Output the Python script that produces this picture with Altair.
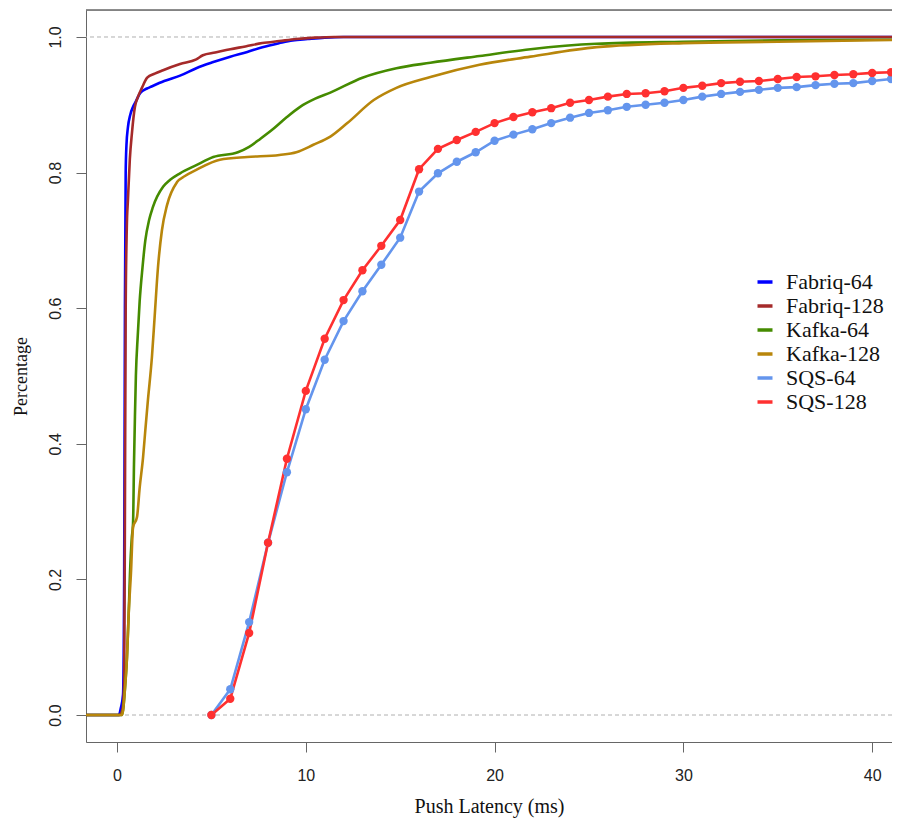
import altair as alt
import pandas as pd

series_names = ["Fabriq-64", "Fabriq-128", "Kafka-64", "Kafka-128", "SQS-64", "SQS-128"]
series_colors = ["#0000FF", "#A52A2A", "#458B00", "#B8860B", "#6495ED", "#FF3030"]

fabriq64_x = [-2, 0.1, 0.2, 0.32, 0.38, 0.42, 0.46, 0.5, 0.58, 0.7, 0.85, 1.0, 1.22, 1.59, 1.75, 2.5,
              3.34, 4.2, 5.1, 6.0, 6.9, 7.7, 8.6, 9.3, 10.1, 11, 12, 42]
fabriq64_y = [0, 0, 0.01, 0.03, 0.2, 0.6, 0.8, 0.84, 0.867, 0.885, 0.897, 0.905, 0.917, 0.924, 0.926, 0.935,
              0.943, 0.954, 0.963, 0.971, 0.978, 0.985, 0.991, 0.995, 0.997, 0.999, 1.0, 1.0]

fabriq128_x = [-2, 0.15, 0.3, 0.38, 0.42, 0.46, 0.52, 0.58, 0.68, 0.79, 0.95, 1.1, 1.32, 1.6, 2.0, 2.44,
               3.34, 4.2, 4.55, 5.2, 6.0, 6.8, 7.7, 8.6, 9.5, 10.5, 11.5, 42]
fabriq128_y = [0, 0, 0.01, 0.05, 0.3, 0.6, 0.72, 0.76, 0.82, 0.858, 0.897, 0.911, 0.925, 0.94, 0.946, 0.951,
               0.96, 0.967, 0.973, 0.977, 0.982, 0.986, 0.991, 0.994, 0.997, 0.999, 1.0, 1.0]

kafka64_x = [-2, 0.25, 0.32, 0.45, 0.53, 0.62, 0.69, 0.78, 0.85, 0.9, 0.95, 1.0, 1.1, 1.2, 1.35, 1.5, 1.7,
             1.9, 2.44, 2.8, 3.34, 4.2, 5.1, 6.4, 7.0, 7.6, 8.3, 9.0, 9.7, 10.5, 11.3, 13.0, 14.8, 16.6,
             19.2, 21.9, 25.4, 30, 35, 42]
kafka64_y = [0, 0, 0.007, 0.05, 0.086, 0.15, 0.21, 0.26, 0.283, 0.37, 0.44, 0.50, 0.56, 0.61, 0.66, 0.70,
             0.73, 0.749, 0.779, 0.789, 0.799, 0.811, 0.823, 0.83, 0.838, 0.85, 0.865, 0.882, 0.897, 0.909,
             0.918, 0.94, 0.954, 0.962, 0.972, 0.982, 0.99, 0.993, 0.995, 0.996]

kafka128_x = [-2, 0.25, 0.32, 0.45, 0.53, 0.62, 0.74, 0.85, 1.06, 1.2, 1.38, 1.5, 1.64, 1.85, 2.0, 2.17,
              2.38, 2.65, 3.18, 3.6, 4.2, 5.45, 6.9, 8.6, 9.5, 10.4, 11.3, 12.2, 13.6, 14.8, 16.6,
              19.2, 21.9, 25.4, 30, 35, 42]
kafka128_y = [0, 0, 0.007, 0.05, 0.086, 0.15, 0.21, 0.277, 0.292, 0.335, 0.38, 0.42, 0.465, 0.528, 0.59,
              0.66, 0.715, 0.752, 0.786, 0.795, 0.804, 0.819, 0.823, 0.826, 0.83, 0.841, 0.853, 0.873,
              0.907, 0.925, 0.941, 0.959, 0.971, 0.985, 0.991, 0.993, 0.996]

sqs_x = list(range(5, 42))
sqs64_y = [0, 0.038, 0.137, 0.254, 0.358, 0.451, 0.524, 0.581, 0.625, 0.664, 0.704, 0.772, 0.799, 0.816,
           0.830, 0.847, 0.856, 0.864, 0.873, 0.881, 0.888, 0.892, 0.897, 0.900, 0.903, 0.907, 0.912, 0.916,
           0.919, 0.922, 0.925, 0.926, 0.929, 0.931, 0.932, 0.935, 0.938]
sqs128_y = [0, 0.024, 0.121, 0.254, 0.378, 0.478, 0.555, 0.612, 0.656, 0.692, 0.730, 0.805, 0.835, 0.848,
            0.860, 0.873, 0.882, 0.889, 0.895, 0.903, 0.907, 0.912, 0.916, 0.917, 0.920, 0.925, 0.928, 0.932,
            0.934, 0.935, 0.938, 0.941, 0.942, 0.944, 0.945, 0.947, 0.948]

ref_lines = [0.0, 1.0]
x_ticks = [0, 10, 20, 30, 40]
y_ticks = [0.0, 0.2, 0.4, 0.6, 0.8, 1.0]


def frame(name, xs, ys):
    return pd.DataFrame({"x": xs, "y": ys, "series": name})


smooth_df = pd.concat([
    frame("Fabriq-64", fabriq64_x, fabriq64_y),
    frame("Fabriq-128", fabriq128_x, fabriq128_y),
    frame("Kafka-64", kafka64_x, kafka64_y),
    frame("Kafka-128", kafka128_x, kafka128_y),
], ignore_index=True)
sqs_df = pd.concat([
    frame("SQS-64", sqs_x, sqs64_y),
    frame("SQS-128", sqs_x, sqs128_y),
], ignore_index=True)
ref_df = pd.DataFrame({"y": ref_lines})

W, H = 806, 732
xscale = alt.Scale(domain=[-1.642, 41.05], nice=False, zero=False)
yscale = alt.Scale(domain=[-0.0398, 1.0398], nice=False, zero=False)
cscale = alt.Scale(domain=series_names, range=series_colors)

x_axis = alt.Axis(values=x_ticks, tickSize=10, labelPadding=15, labelFont="Liberation Sans",
                  labelFontSize=16, labelColor="#222", grid=False, domainColor="#666", tickColor="#666",
                  title="Push Latency (ms)", titleFont="Liberation Serif", titleFontSize=20,
                  titleFontWeight="normal", titleColor="#111", titlePadding=13)
y_axis = alt.Axis(values=y_ticks, format=".1f", tickSize=10, labelPadding=13, labelAngle=270,
                  labelAlign="center", labelBaseline="bottom", labelFont="Liberation Sans",
                  labelFontSize=16, labelColor="#222", grid=False, domainColor="#666", tickColor="#666",
                  title="Percentage", titleFont="Liberation Serif", titleFontSize=18,
                  titleFontWeight="normal", titleColor="#111", titlePadding=17)

refs = alt.Chart(ref_df).mark_rule(color="#b0b0b0", strokeDash=[4, 3], strokeWidth=1).encode(
    y=alt.Y("y:Q", scale=yscale, axis=y_axis)
)
top_border = alt.Chart(ref_df).mark_rule(color="#666", strokeWidth=1).encode(
    x=alt.value(0), x2=alt.value(W), y=alt.value(0)
)

smooth = alt.Chart(smooth_df).mark_line(interpolate="monotone", strokeWidth=2.6, clip=True).encode(
    x=alt.X("x:Q", scale=xscale, axis=x_axis),
    y=alt.Y("y:Q", scale=yscale, axis=y_axis),
    color=alt.Color("series:N", scale=cscale, sort=series_names,
                    legend=alt.Legend(title=None, orient="none", legendX=668, legendY=261,
                                      symbolType="stroke", symbolSize=225, symbolStrokeWidth=3.5,
                                      labelFont="Liberation Serif", labelFontSize=22, labelColor="#111",
                                      labelOffset=10, rowPadding=2, padding=0)),
    detail="series:N",
)
sqs_lines = alt.Chart(sqs_df).mark_line(strokeWidth=2.6, clip=True).encode(
    x=alt.X("x:Q", scale=xscale, axis=x_axis),
    y=alt.Y("y:Q", scale=yscale, axis=y_axis),
    color=alt.Color("series:N", scale=cscale, sort=series_names),
)
sqs_points = alt.Chart(sqs_df).mark_circle(size=70, opacity=1, clip=True).encode(
    x=alt.X("x:Q", scale=xscale, axis=x_axis),
    y=alt.Y("y:Q", scale=yscale, axis=y_axis),
    color=alt.Color("series:N", scale=cscale, sort=series_names),
)

chart = alt.layer(refs, top_border, smooth, sqs_lines, sqs_points).properties(
    width=W, height=H,
    autosize=alt.AutoSizeParams(type="none"),
    padding={"left": 78, "top": 2, "right": 0, "bottom": 76},
).configure_view(stroke=None).configure(background="white")

chart.save("out.html", embed_options={"renderer": "svg", "actions": False})
